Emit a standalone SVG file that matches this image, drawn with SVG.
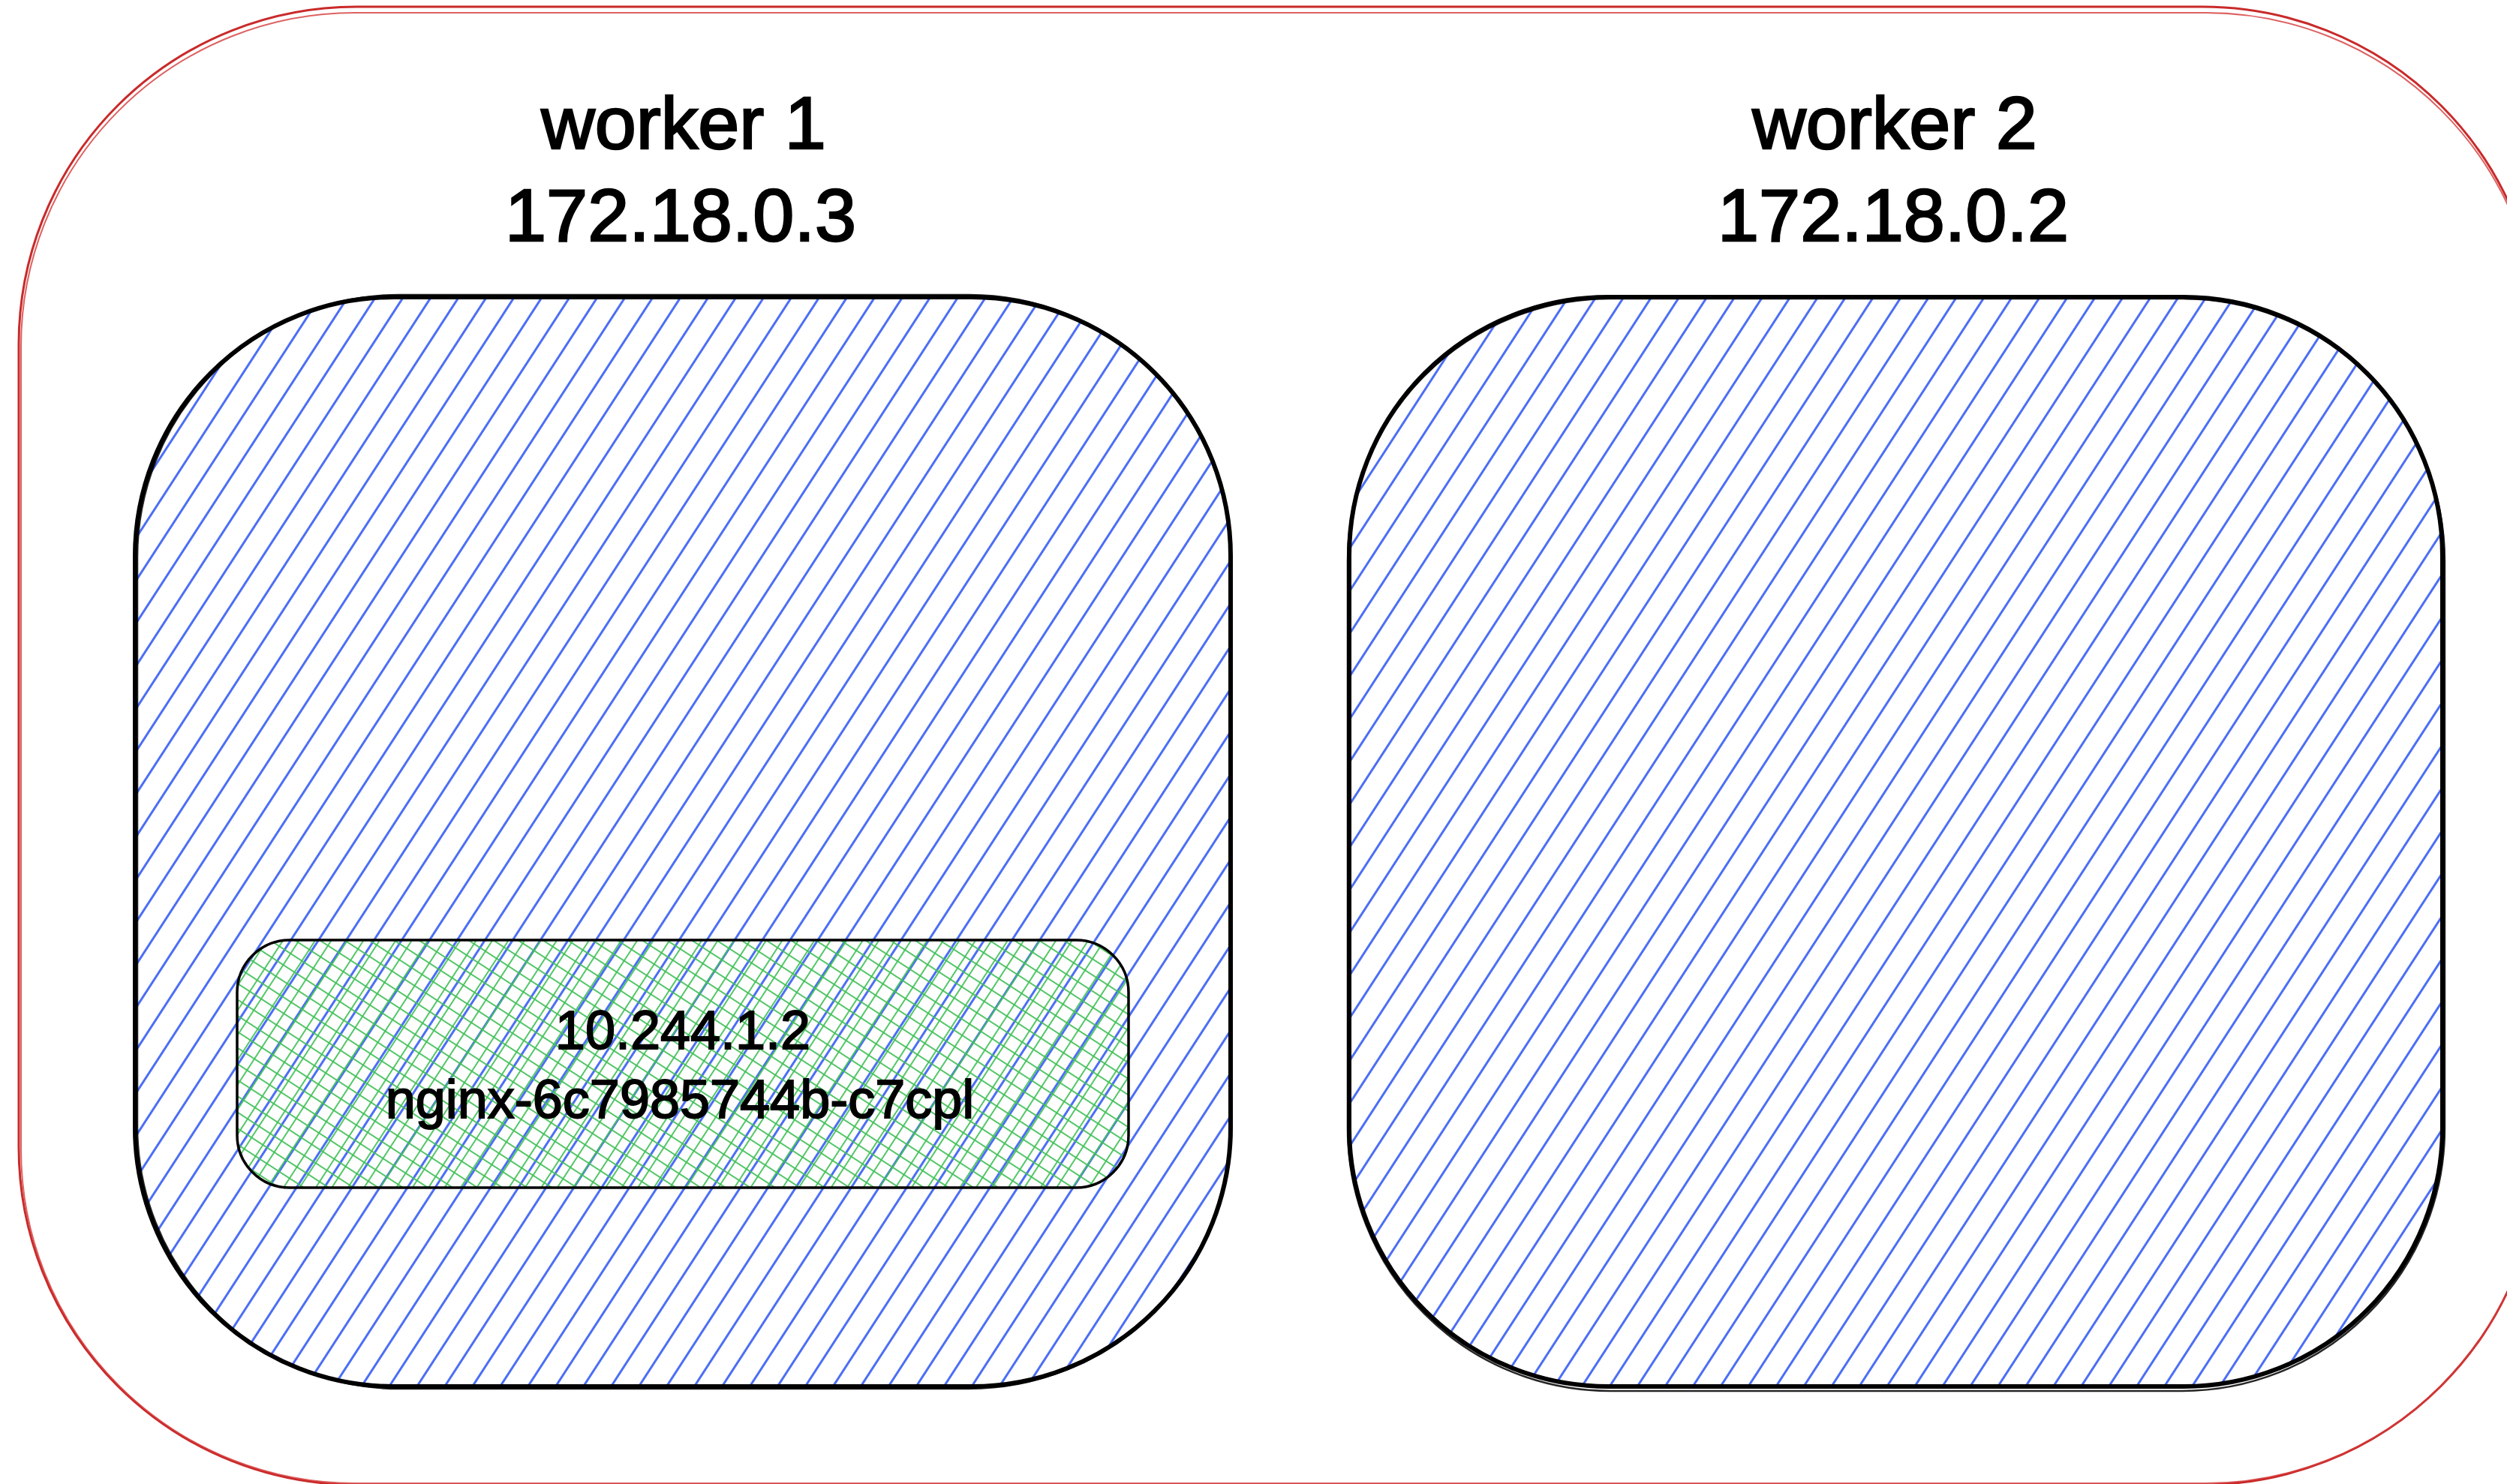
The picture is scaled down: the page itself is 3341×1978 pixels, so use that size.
<svg xmlns="http://www.w3.org/2000/svg" width="3341" height="1978" viewBox="0 0 3341 1978">
  <style>
    .title { font-family: "Liberation Sans", Arial, sans-serif; font-size: 99px; fill: #000; stroke: #000; stroke-width: 2.5; text-anchor: middle; }
    .podtext { font-family: "Liberation Sans", Arial, sans-serif; font-size: 72px; fill: #000; stroke: #000; stroke-width: 1.8; text-anchor: middle; }
    .cluster { fill: none; stroke: #c92a2a; stroke-width: 3; }
    .cluster2 { fill: none; stroke: #d43a3a; stroke-width: 2; opacity: 0.8; }
    .node { fill: url(#blueHatch); stroke: #000; stroke-width: 6; }
    .node2 { fill: none; stroke: #000; stroke-width: 2.5; opacity: 0.85; }
    .pod { fill: url(#greenHatch); stroke: #000; stroke-width: 3.5; }
  </style>
  <defs>
    <pattern id="blueHatch" patternUnits="userSpaceOnUse" width="60" height="31" patternTransform="rotate(-57)">
      <line x1="0" y1="15.5" x2="60" y2="15.5" stroke="#4c6ef5" stroke-width="3"/>
    </pattern>
    <pattern id="greenHatch" patternUnits="userSpaceOnUse" width="18" height="18" patternTransform="rotate(-57)">
      <line x1="0" y1="9" x2="18" y2="9" stroke="#40c057" stroke-width="1.8"/>
      <line x1="9" y1="0" x2="9" y2="18" stroke="#40c057" stroke-width="1.8"/>
    </pattern>
  </defs>
  <rect x="0" y="0" width="3341" height="1978" fill="#ffffff"/>

  <g id="cluster">
    <rect class="cluster" x="25" y="9" width="3360" height="1970" rx="450" ry="450"/>
    <rect class="cluster2" x="28" y="17" width="3356" height="1960" rx="445" ry="445"/>
  </g>

  <g id="worker1">
    <rect class="node" x="180" y="396" width="1460" height="1452" rx="345" ry="345"/>
    <rect class="node2" x="183" y="393" width="1458" height="1458" rx="350" ry="350"/>
    <text class="title" x="911" y="198">worker 1</text>
    <text class="title" x="907" y="321">172.18.0.3</text>
  </g>

  <g id="worker2">
    <rect class="node" x="1798" y="396" width="1457" height="1452" rx="345" ry="345"/>
    <rect class="node2" x="1796" y="398" width="1462" height="1456" rx="350" ry="350"/>
    <text class="title" x="2525" y="198">worker 2</text>
    <text class="title" x="2523" y="321">172.18.0.2</text>
  </g>

  <g id="pod">
    <rect class="pod" x="316" y="1253" width="1188" height="330" rx="70" ry="70"/>
    <text class="podtext" x="910" y="1398">10.244.1.2</text>
    <text class="podtext" x="906" y="1490">nginx-6c7985744b-c7cpl</text>
  </g>

  <g id="connectors"/>
</svg>
